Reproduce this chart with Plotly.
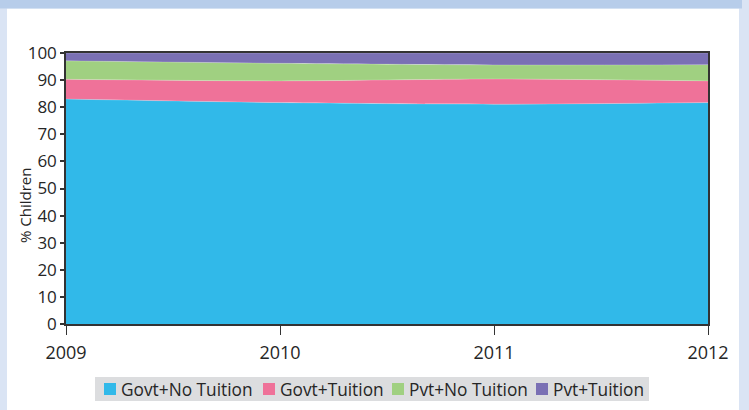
import plotly.graph_objects as go

# ---------------- data ----------------
years = [2009, 2010, 2011, 2012]
series_names = ["Govt+No Tuition", "Govt+Tuition", "Pvt+No Tuition", "Pvt+Tuition"]
govt_no_tuition = [83.0, 81.7, 81.1, 81.7]
govt_tuition = [7.3, 8.0, 9.3, 8.0]
pvt_no_tuition = [6.8, 6.5, 5.2, 6.0]
pvt_tuition = [2.9, 3.8, 4.4, 4.3]
y_tick_values = [0, 10, 20, 30, 40, 50, 60, 70, 80, 90, 100]
x_tick_labels = ["2009", "2010", "2011", "2012"]
y_axis_title = "% Children"

# ---------------- style ----------------
colors = ["#31b9e9", "#ef7299", "#a0d081", "#7a70b4"]
W, H = 749, 410
L, R, T, B = 66, 41, 53, 86
PW, PH = W - L - R, H - T - B
FONT = "Open Sans"
TXT = "#262626"


def px(x):
    return (x - L) / PW


def py(y):
    return (H - B - y) / PH


fig = go.Figure()
all_series = [govt_no_tuition, govt_tuition, pvt_no_tuition, pvt_tuition]
for name, vals, col in zip(series_names, all_series, colors):
    fig.add_trace(go.Scatter(
        x=years, y=vals, name=name, mode="lines",
        stackgroup="one", line=dict(width=0.6, color="rgba(255,255,255,0.35)", shape="spline", smoothing=0.8),
        fillcolor=col, showlegend=False, hoverinfo="x+y+name",
    ))

shapes = [
    # white panel
    dict(type="rect", xref="paper", yref="paper", x0=px(7), x1=px(739), y0=py(420), y1=py(8.5),
         fillcolor="white", line=dict(width=0), layer="below"),
    # top band
    dict(type="rect", xref="paper", yref="paper", x0=px(-5), x1=px(742), y0=py(8.5), y1=py(-5),
         fillcolor="#b7cdea", line=dict(width=0), layer="below"),
    # legend box
    dict(type="rect", xref="paper", yref="paper", x0=px(95), x1=px(649), y0=py(401), y1=py(377),
         fillcolor="#dcdddf", line=dict(width=0), layer="below"),
]
annotations = [
    dict(text=y_axis_title, xref="paper", yref="paper", x=px(25), y=py(206), textangle=-90,
         showarrow=False, font=dict(family=FONT, size=15, color=TXT), xanchor="center", yanchor="middle"),
]

legend_square_x = [104, 263, 392, 536]
legend_text_x = [120, 279, 408, 552]
for name, col, sx, tx in zip(series_names, colors, legend_square_x, legend_text_x):
    shapes.append(dict(type="rect", xref="paper", yref="paper", x0=px(sx), x1=px(sx + 12),
                       y0=py(395), y1=py(383), fillcolor=col, line=dict(width=0)))
    annotations.append(dict(text=name, xref="paper", yref="paper", x=px(tx), y=py(389.5),
                            xanchor="left", yanchor="middle", showarrow=False, borderpad=0,
                            font=dict(family=FONT, size=17.3, color=TXT)))

fig.update_layout(
    width=W, height=H, autosize=False,
    margin=dict(l=L, r=R, t=T, b=B, pad=0),
    paper_bgcolor="#dae4f4", plot_bgcolor="white",
    font=dict(family=FONT, color=TXT),
    showlegend=False,
    shapes=shapes, annotations=annotations,
    xaxis=dict(range=[2009, 2012], tickvals=years, ticktext=x_tick_labels,
               showgrid=False, zeroline=False, showline=True, linecolor="#333333", linewidth=1.5,
               mirror=True, ticks="outside", ticklen=9, tickwidth=1, tickcolor="#333333",
               ticklabelstandoff=3,
               tickfont=dict(family=FONT, size=18, color=TXT)),
    yaxis=dict(range=[0, 100], tickvals=y_tick_values, showgrid=False, zeroline=False,
               showline=True, linecolor="#333333", linewidth=1.5, mirror=True,
               ticks="outside", ticklen=4, tickwidth=1.5, tickcolor="#333333",
               tickfont=dict(family=FONT, size=17, color=TXT)),
)

fig.write_html(
    "out.html",
    config={"displayModeBar": False},
    post_script="document.body.style.margin='0';document.body.style.overflow='hidden';",
)
